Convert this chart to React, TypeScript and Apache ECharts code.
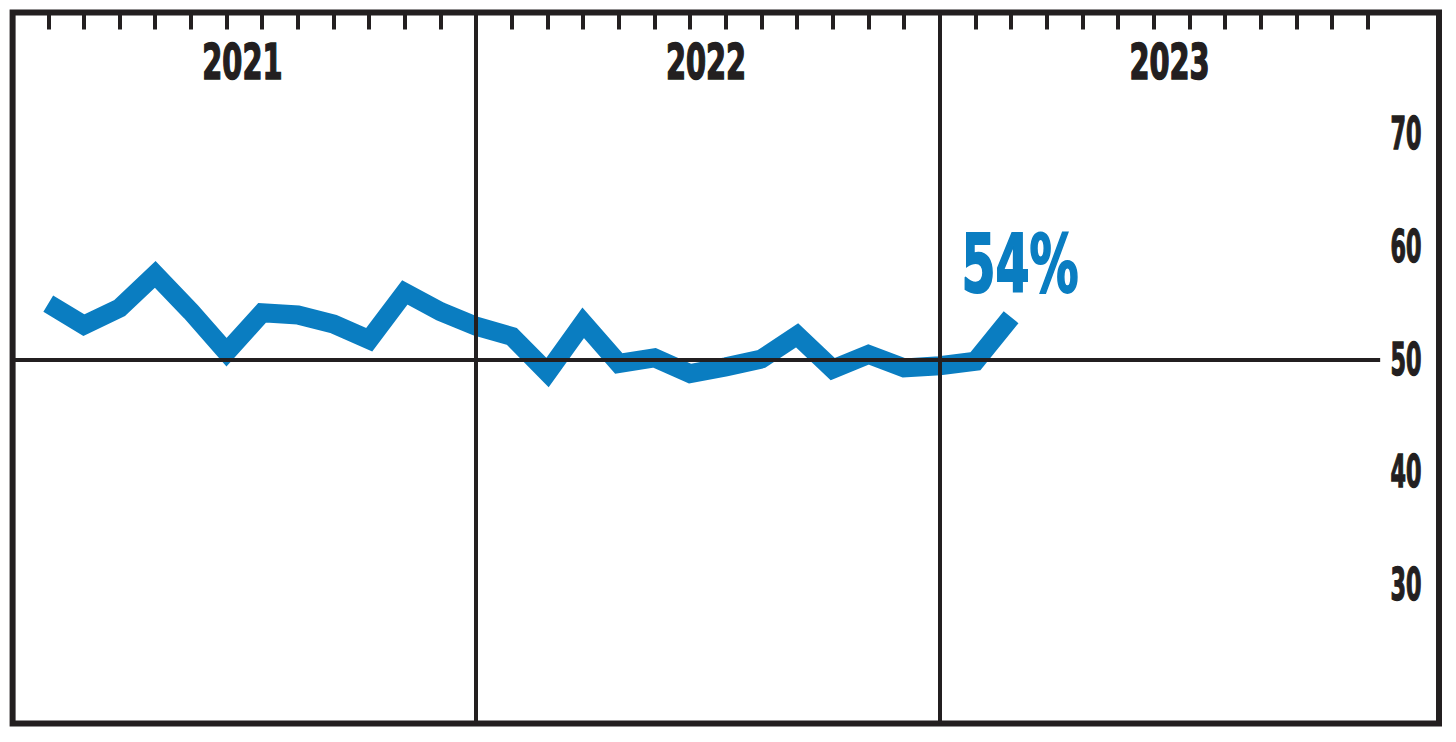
import React, { useEffect, useRef } from "react";
import * as echarts from "echarts";

// x positions: one slot per step, dividers at 13 and 26 (year boundaries)
const pointIndex = [1, 2, 3, 4, 5, 6, 7, 8, 9, 10, 11, 12, 13, 14, 15, 16, 17, 18, 19, 20, 21, 22, 23, 24, 25, 26, 27, 28];
const values = [55.0, 53.1, 54.6, 57.6, 54.3, 50.7, 54.2, 54.0, 53.2, 51.8, 56.0, 54.3, 53.0, 52.1, 48.9, 53.3, 49.7, 50.2, 48.8, 49.4, 50.1, 52.2, 49.2, 50.5, 49.3, 49.5, 49.9, 53.8];
const years = ["2021", "2022", "2023"];
const yearCenters = [6.5, 19.5, 32.5];
const yearDividers = [13, 26];
const monthTicks = [
  1, 2, 3, 4, 5, 6, 7, 8, 9, 10, 11, 12,
  14, 15, 16, 17, 18, 19, 20, 21, 22, 23, 24, 25,
  27, 28, 29, 30, 31, 32, 33, 34, 35, 36, 37, 38,
];
const yTicks = [30, 40, 50, 60, 70];
const baseline = 50;
const baselineEnd = 38.35;

const INK = "#231f20";
const BLUE = "#0a7dc1";
const FONT = "'DejaVu Sans Condensed', 'DejaVu Sans', sans-serif";

function textEl(x: number, y: number, text: string, size: number, sx: number, color: string, sw: number) {
  return {
    type: "text",
    x,
    y,
    scaleX: sx,
    silent: true,
    style: {
      text,
      fill: color,
      stroke: color,
      lineWidth: sw,
      fontSize: size,
      fontWeight: "bold",
      fontFamily: FONT,
      align: "center",
      verticalAlign: "middle",
      textAlign: "center",
      textVerticalAlign: "middle",
    },
  };
}

export default function App() {
  const ref = useRef<HTMLDivElement>(null);
  useEffect(() => {
    if (!ref.current) return;
    const chart = echarts.init(ref.current, null, { renderer: "svg" });
    const lastIdx = pointIndex[pointIndex.length - 1];
    const last = values[values.length - 1];
    chart.setOption({
      animation: false,
      backgroundColor: "#ffffff",
      grid: {
        left: 12.6,
        right: 17,
        top: 12.5,
        bottom: 18.5,
        show: true,
        borderColor: INK,
        borderWidth: 6,
        backgroundColor: "#ffffff",
      },
      xAxis: {
        type: "value",
        position: "top",
        min: 0,
        max: 40,
        axisLine: { show: false },
        splitLine: { show: false },
        axisLabel: { show: false },
        axisTick: {
          show: true,
          inside: true,
          length: 17,
          customValues: monthTicks,
          lineStyle: { color: INK, width: 4 },
        },
      },
      yAxis: {
        type: "value",
        position: "right",
        min: 17.8,
        max: 80.8,
        axisLine: { show: false },
        axisTick: { show: false },
        splitLine: { show: false },
        axisLabel: { show: false },
      },
      series: [
        {
          type: "line",
          data: [],
          z: 1,
          markLine: {
            silent: true,
            symbol: "none",
            label: { show: false },
            lineStyle: { color: INK, width: 4, type: "solid" },
            data: [
              ...yearDividers.map((d) => ({ xAxis: d })),
              [{ coord: [0, baseline] }, { coord: [baselineEnd, baseline] }],
            ],
          },
        },
        {
          type: "line",
          z: 3,
          symbol: "none",
          data: pointIndex.map((x, i) => [x, values[i]]),
          lineStyle: { color: BLUE, width: 19, cap: "butt", join: "miter" },
        },
        // year labels along the top
        {
          type: "custom",
          z: 5,
          silent: true,
          data: yearCenters.map((c) => [c, baseline]),
          renderItem: (params: any, api: any) => {
            const p = api.coord([api.value(0), api.value(1)]);
            const cs = params.coordSys;
            return textEl(p[0] - 2, cs.y + 49.5, years[params.dataIndex], 50, 0.64, INK, 1.6);
          },
        },
        // y value labels on the right
        {
          type: "custom",
          z: 5,
          silent: true,
          data: yTicks.map((v) => [0, v]),
          renderItem: (params: any, api: any) => {
            const p = api.coord([api.value(0), api.value(1)]);
            const cs = params.coordSys;
            return textEl(cs.x + cs.width - 33, p[1] - 1, String(yTicks[params.dataIndex]), 45, 0.55, INK, 1.4);
          },
        },
        // end value label
        {
          type: "custom",
          z: 6,
          silent: true,
          data: [[lastIdx, last]],
          renderItem: (params: any, api: any) => {
            const p = api.coord([api.value(0), api.value(1)]);
            return textEl(p[0] + 9, p[1] - 53, `${Math.round(last)}%`, 80, 0.68, BLUE, 2);
          },
        },
      ],
    });
    return () => chart.dispose();
  }, []);
  return (
    <div
      ref={ref}
      style={{ position: "fixed", left: 0, top: 0, width: 1456, height: 742, background: "#fff" }}
    />
  );
}
